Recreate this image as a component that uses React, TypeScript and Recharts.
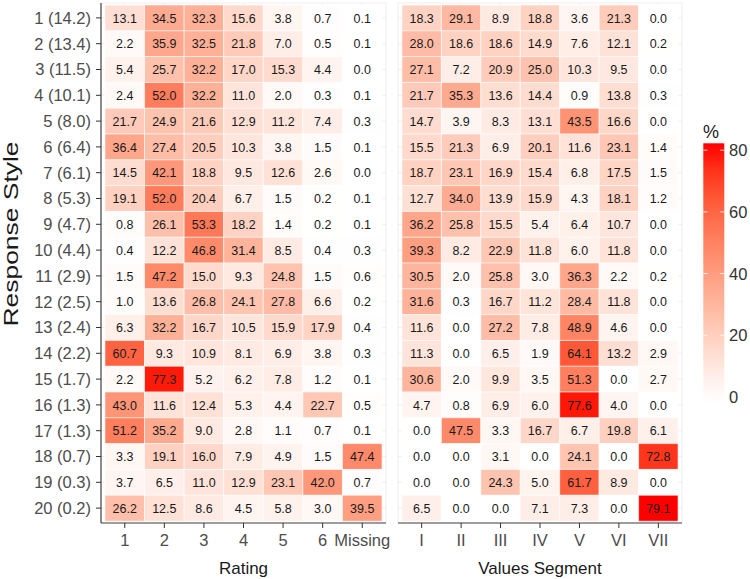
import React from 'react';
import { BarChart, Bar, XAxis, YAxis, Cell, LabelList, CartesianGrid } from 'recharts';

const responseStyles = [
  '1 (14.2)', '2 (13.4)', '3 (11.5)', '4 (10.1)', '5 (8.0)', '6 (6.4)', '7 (6.1)',
  '8 (5.3)', '9 (4.7)', '10 (4.4)', '11 (2.9)', '12 (2.5)', '13 (2.4)', '14 (2.2)',
  '15 (1.7)', '16 (1.3)', '17 (1.3)', '18 (0.7)', '19 (0.3)', '20 (0.2)',
];

const ratingCats = ['1', '2', '3', '4', '5', '6', 'Missing'];
const segmentCats = ['I', 'II', 'III', 'IV', 'V', 'VI', 'VII'];

// % of each response style falling in each rating
const ratingValues = [
  [13.1, 34.5, 32.3, 15.6, 3.8, 0.7, 0.1],
  [2.2, 35.9, 32.5, 21.8, 7.0, 0.5, 0.1],
  [5.4, 25.7, 32.2, 17.0, 15.3, 4.4, 0.0],
  [2.4, 52.0, 32.2, 11.0, 2.0, 0.3, 0.1],
  [21.7, 24.9, 21.6, 12.9, 11.2, 7.4, 0.3],
  [36.4, 27.4, 20.5, 10.3, 3.8, 1.5, 0.1],
  [14.5, 42.1, 18.8, 9.5, 12.6, 2.6, 0.0],
  [19.1, 52.0, 20.4, 6.7, 1.5, 0.2, 0.1],
  [0.8, 26.1, 53.3, 18.2, 1.4, 0.2, 0.1],
  [0.4, 12.2, 46.8, 31.4, 8.5, 0.4, 0.3],
  [1.5, 47.2, 15.0, 9.3, 24.8, 1.5, 0.6],
  [1.0, 13.6, 26.8, 24.1, 27.8, 6.6, 0.2],
  [6.3, 32.2, 16.7, 10.5, 15.9, 17.9, 0.4],
  [60.7, 9.3, 10.9, 8.1, 6.9, 3.8, 0.3],
  [2.2, 77.3, 5.2, 6.2, 7.8, 1.2, 0.1],
  [43.0, 11.6, 12.4, 5.3, 4.4, 22.7, 0.5],
  [51.2, 35.2, 9.0, 2.8, 1.1, 0.7, 0.1],
  [3.3, 19.1, 16.0, 7.9, 4.9, 1.5, 47.4],
  [3.7, 6.5, 11.0, 12.9, 23.1, 42.0, 0.7],
  [26.2, 12.5, 8.6, 4.5, 5.8, 3.0, 39.5],
];

// % of each response style falling in each values segment
const segmentValues = [
  [18.3, 29.1, 8.9, 18.8, 3.6, 21.3, 0.0],
  [28.0, 18.6, 18.6, 14.9, 7.6, 12.1, 0.2],
  [27.1, 7.2, 20.9, 25.0, 10.3, 9.5, 0.0],
  [21.7, 35.3, 13.6, 14.4, 0.9, 13.8, 0.3],
  [14.7, 3.9, 8.3, 13.1, 43.5, 16.6, 0.0],
  [15.5, 21.3, 6.9, 20.1, 11.6, 23.1, 1.4],
  [18.7, 23.1, 16.9, 15.4, 6.8, 17.5, 1.5],
  [12.7, 34.0, 13.9, 15.9, 4.3, 18.1, 1.2],
  [36.2, 25.8, 15.5, 5.4, 6.4, 10.7, 0.0],
  [39.3, 8.2, 22.9, 11.8, 6.0, 11.8, 0.0],
  [30.5, 2.0, 25.8, 3.0, 36.3, 2.2, 0.2],
  [31.6, 0.3, 16.7, 11.2, 28.4, 11.8, 0.0],
  [11.6, 0.0, 27.2, 7.8, 48.9, 4.6, 0.0],
  [11.3, 0.0, 6.5, 1.9, 64.1, 13.2, 2.9],
  [30.6, 2.0, 9.9, 3.5, 51.3, 0.0, 2.7],
  [4.7, 0.8, 6.9, 6.0, 77.6, 4.0, 0.0],
  [0.0, 47.5, 3.3, 16.7, 6.7, 19.8, 6.1],
  [0.0, 0.0, 3.1, 0.0, 24.1, 0.0, 72.8],
  [0.0, 0.0, 24.3, 5.0, 61.7, 8.9, 0.0],
  [6.5, 0.0, 0.0, 7.1, 7.3, 0.0, 79.1],
];

const legendTicks = [0, 20, 40, 60, 80];
const scaleMax = 79.1;

const FONT = '"Liberation Sans", Arial, Helvetica, sans-serif';

// white -> red ramp in CIELAB (like ggplot's scale_fill_gradient)
const toLin = (c: number) => {
  c /= 255;
  return c <= 0.04045 ? c / 12.92 : Math.pow((c + 0.055) / 1.055, 2.4);
};
const fromLin = (c: number) => {
  const v = c <= 0.0031308 ? 12.92 * c : 1.055 * Math.pow(c, 1 / 2.4) - 0.055;
  return Math.round(Math.min(1, Math.max(0, v)) * 255);
};
function rgbToLab(r: number, g: number, b: number) {
  const R = toLin(r), G = toLin(g), B = toLin(b);
  const X = (0.4124 * R + 0.3576 * G + 0.1805 * B) / 0.95047;
  const Y = 0.2126 * R + 0.7152 * G + 0.0722 * B;
  const Z = (0.0193 * R + 0.1192 * G + 0.9505 * B) / 1.08883;
  const f = (t: number) => (t > 0.008856 ? Math.cbrt(t) : 7.787 * t + 16 / 116);
  const fx = f(X), fy = f(Y), fz = f(Z);
  return [116 * fy - 16, 500 * (fx - fy), 200 * (fy - fz)];
}
function labToHex(L: number, a: number, b: number) {
  const fy = (L + 16) / 116;
  const fx = fy + a / 500;
  const fz = fy - b / 200;
  const inv = (t: number) => (t ** 3 > 0.008856 ? t ** 3 : (t - 16 / 116) / 7.787);
  const X = inv(fx) * 0.95047, Y = inv(fy), Z = inv(fz) * 1.08883;
  const r = 3.2406 * X - 1.5372 * Y - 0.4986 * Z;
  const g = -0.9689 * X + 1.8758 * Y + 0.0415 * Z;
  const bb = 0.0557 * X - 0.204 * Y + 1.057 * Z;
  return '#' + [r, g, bb].map((c) => fromLin(c).toString(16).padStart(2, '0')).join('');
}
const LOW = rgbToLab(255, 255, 255);
const HIGH = rgbToLab(255, 0, 0);
function fillFor(v: number) {
  const t = Math.min(1, Math.max(0, v / scaleMax));
  return labToHex(
    LOW[0] + (HIGH[0] - LOW[0]) * t,
    LOW[1] + (HIGH[1] - LOW[1]) * t,
    LOW[2] + (HIGH[2] - LOW[2]) * t,
  );
}

// each cell spans one unit of the column grid; v* holds the percentage shown
function buildRows(values: number[][]) {
  return responseStyles.map((label, r) => {
    const row: Record<string, string | number> = { rs: label };
    values[r].forEach((v, c) => {
      row[`k${c}`] = 1;
      row[`v${c}`] = v;
    });
    return row;
  });
}

const ratingRows = buildRows(ratingValues);
const segmentRows = buildRows(segmentValues);
const colTicks = ratingCats.map((_, i) => i + 0.5);

const tickStyle = { fill: '#4d4d4d', fontSize: 16.5, fontFamily: FONT };

function CellText(props: any) {
  const { x, y, width, height, value } = props;
  return (
    <text
      x={x + width / 2}
      y={y + height / 2}
      dy="0.36em"
      textAnchor="middle"
      fontSize={12.5}
      fontFamily={FONT}
      fill="#1a1a1a"
    >
      {Number(value).toFixed(1)}
    </text>
  );
}

function Panel({
  rows,
  values,
  cats,
  title,
  showY,
  width,
  margin,
}: {
  rows: Record<string, string | number>[];
  values: number[][];
  cats: string[];
  title: string;
  showY: boolean;
  width: number;
  margin: { top: number; right: number; left: number; bottom: number };
}) {
  return (
    <BarChart
      width={width}
      height={579}
      data={rows}
      layout="vertical"
      margin={margin}
      barCategoryGap={0}
      barGap={0}
    >
      <CartesianGrid stroke="#ebebeb" strokeWidth={0.8} />
      <XAxis
        type="number"
        domain={[-0.1, 7.1]}
        ticks={colTicks}
        tickFormatter={(v: number) => cats[Math.floor(v)]}
        tick={tickStyle}
        tickSize={5}
        tickMargin={6}
        tickLine={{ stroke: '#333' }}
        axisLine={{ stroke: '#444', strokeWidth: 1.2 }}
        height={56}
        allowDataOverflow
        label={{
          value: title,
          position: 'insideBottom',
          offset: 5,
          fill: '#1a1a1a',
          fontSize: 17,
          fontFamily: FONT,
        }}
      />
      <XAxis
        xAxisId="top"
        orientation="top"
        type="number"
        domain={[0, 1]}
        height={0}
        tick={false}
        tickLine={false}
        axisLine={{ stroke: '#444', strokeWidth: 1.2 }}
      />
      <YAxis
        type="category"
        dataKey="rs"
        hide={!showY}
        width={showY ? 92 : 0}
        padding={{ top: 2, bottom: 2 }}
        tick={tickStyle}
        tickSize={5}
        tickMargin={5}
        tickLine={{ stroke: '#333' }}
        axisLine={{ stroke: '#444', strokeWidth: 1.2 }}
      />
      {!showY && (
        <YAxis
          yAxisId="left"
          orientation="left"
          type="number"
          domain={[0, 1]}
          width={0}
          tick={false}
          tickLine={false}
          axisLine={{ stroke: '#444', strokeWidth: 1.2 }}
        />
      )}
      <YAxis
        yAxisId="right"
        orientation="right"
        type="number"
        domain={[0, 1]}
        width={0}
        tick={false}
        tickLine={false}
        axisLine={{ stroke: '#444', strokeWidth: 1.2 }}
      />
      {cats.map((_, c) => (
        <Bar key={c} dataKey={`k${c}`} stackId="tiles" isAnimationActive={false}>
          {values.map((rowVals, r) => (
            <Cell key={r} fill={fillFor(rowVals[c])} stroke="#ffffff" strokeWidth={0.6} />
          ))}
          <LabelList dataKey={`v${c}`} content={<CellText />} />
        </Bar>
      ))}
    </BarChart>
  );
}

function ColourBar() {
  const barTop = 43.3;
  const barBottom = 303;
  const zeroY = 297;
  const perUnit = 3.085;
  const stops = [0, 0.1, 0.2, 0.3, 0.4, 0.5, 0.6, 0.7, 0.8, 0.9, 1];
  const topVal = (zeroY - barTop) / perUnit;
  const bottomVal = (zeroY - barBottom) / perUnit;
  return (
    <svg width={60} height={330} style={{ position: 'absolute', left: 690, top: 100 }}>
      <defs>
        <linearGradient id="heat" x1="0" y1="1" x2="0" y2="0">
          {stops.map((s) => (
            <stop key={s} offset={s} stopColor={fillFor(bottomVal + (topVal - bottomVal) * s)} />
          ))}
        </linearGradient>
      </defs>
      <text x={13} y={38} fontSize={18} fontFamily={FONT} fill="#1a1a1a">
        %
      </text>
      <rect x={13.3} y={barTop} width={21} height={barBottom - barTop} fill="url(#heat)" />
      {legendTicks.map((t) => {
        const y = zeroY - t * perUnit;
        return (
          <g key={t}>
            <line x1={13.3} x2={17.5} y1={y} y2={y} stroke="#fff" strokeWidth={0.8} />
            <line x1={30.1} x2={34.3} y1={y} y2={y} stroke="#fff" strokeWidth={0.8} />
            <text x={39} y={y} dy="0.36em" fontSize={16.5} fontFamily={FONT} fill="#333">
              {t}
            </text>
          </g>
        );
      })}
    </svg>
  );
}

export default function App() {
  return (
    <div
      style={{
        position: 'absolute',
        left: 0,
        top: 0,
        width: 750,
        height: 579,
        background: '#fff',
        fontFamily: FONT,
        overflow: 'hidden',
      }}
    >
      <svg width={40} height={579} style={{ position: 'absolute', left: 0, top: 0 }}>
        <text
          x={17.5}
          y={234}
          transform="rotate(-90 17.5 234)"
          textAnchor="middle"
          fontSize={21}
          textLength={185}
          lengthAdjust="spacingAndGlyphs"
          fontFamily={FONT}
          fill="#1a1a1a"
        >
          Response Style
        </text>
      </svg>
      <div style={{ position: 'absolute', left: 0, top: 0 }}>
        <Panel
          rows={ratingRows}
          values={ratingValues}
          cats={ratingCats}
          title="Rating"
          showY
          width={392}
          margin={{ top: 3, right: 6, left: 9, bottom: 0 }}
        />
      </div>
      <div style={{ position: 'absolute', left: 390, top: 0 }}>
        <Panel
          rows={segmentRows}
          values={segmentValues}
          cats={segmentCats}
          title="Values Segment"
          showY={false}
          width={302}
          margin={{ top: 3, right: 10, left: 8, bottom: 0 }}
        />
      </div>
      <ColourBar />
    </div>
  );
}
